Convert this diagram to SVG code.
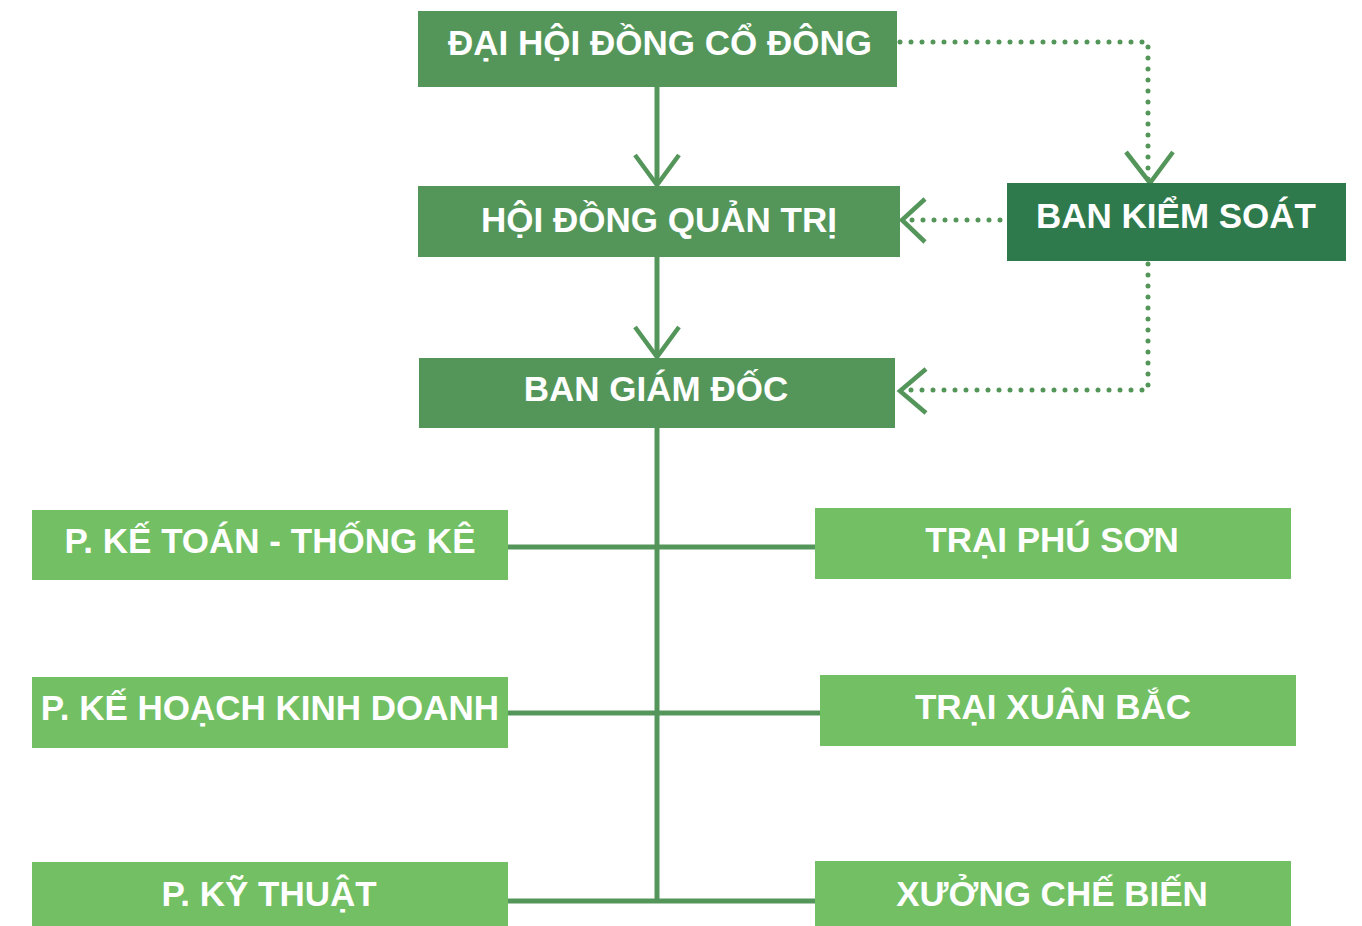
<svg xmlns="http://www.w3.org/2000/svg" width="1362" height="926" viewBox="0 0 1362 926">
<style>
.t{font-family:"Liberation Sans",Arial,sans-serif;font-weight:bold;font-size:35px;fill:#ffffff;text-anchor:middle}
.mid{fill:#54965A}
.dark{fill:#2E7A4C}
.light{fill:#72C063}
.ln{stroke:#54965A;stroke-width:5;fill:none}
.ar{stroke:#54965A;stroke-width:4.5;fill:none}
.dot{stroke:#54965A;stroke-width:5;fill:none;stroke-linecap:round;stroke-dasharray:0 11}
</style>
<rect width="1362" height="926" fill="#ffffff"/>
<g id="connectors">
<line class="ln" x1="657" y1="87" x2="657" y2="184"/>
<polyline class="ar" points="635,155 657,185 679,155"/>
<line class="ln" x1="657" y1="257" x2="657" y2="356"/>
<polyline class="ar" points="635,327 657,357 679,327"/>
<line class="ln" x1="657" y1="428" x2="657" y2="903"/>
<line class="ln" x1="508" y1="547" x2="815" y2="547"/>
<line class="ln" x1="508" y1="713" x2="820" y2="713"/>
<line class="ln" x1="508" y1="901" x2="815" y2="901"/>
<polyline class="dot" points="900,42 1148,42 1148,180"/>
<polyline class="ar" points="1126,152 1150,183 1173,152"/>
<line class="dot" x1="1000" y1="220" x2="906" y2="220"/>
<polyline class="ar" points="925,199 902,220 925,242"/>
<polyline class="dot" points="1148,264 1148,390 906,390"/>
<polyline class="ar" points="926,369 900,391 926,413"/>
</g>
<g id="dai-hoi-dong-co-dong">
<rect class="mid" x="418" y="11" width="479" height="76"/>
<text class="t" x="660" y="55">ĐẠI HỘI ĐỒNG CỔ ĐÔNG</text>
</g>
<g id="hoi-dong-quan-tri">
<rect class="mid" x="418" y="186" width="482" height="71"/>
<text class="t" x="659" y="232">HỘI ĐỒNG QUẢN TRỊ</text>
</g>
<g id="ban-kiem-soat">
<rect class="dark" x="1007" y="183" width="339" height="78"/>
<text class="t" x="1176" y="228">BAN KIỂM SOÁT</text>
</g>
<g id="ban-giam-doc">
<rect class="mid" x="419" y="358" width="476" height="70"/>
<text class="t" x="656" y="401">BAN GIÁM ĐỐC</text>
</g>
<g id="p-ke-toan">
<rect class="light" x="32" y="510" width="476" height="70"/>
<text class="t" x="270" y="553">P. KẾ TOÁN - THỐNG KÊ</text>
</g>
<g id="p-ke-hoach">
<rect class="light" x="32" y="677" width="476" height="71"/>
<text class="t" x="270" y="720">P. KẾ HOẠCH KINH DOANH</text>
</g>
<g id="p-ky-thuat">
<rect class="light" x="32" y="862" width="476" height="64"/>
<text class="t" x="269" y="906">P. KỸ THUẬT</text>
</g>
<g id="trai-phu-son">
<rect class="light" x="815" y="508" width="476" height="71"/>
<text class="t" x="1052" y="552">TRẠI PHÚ SƠN</text>
</g>
<g id="trai-xuan-bac">
<rect class="light" x="820" y="675" width="476" height="71"/>
<text class="t" x="1053" y="719">TRẠI XUÂN BẮC</text>
</g>
<g id="xuong-che-bien">
<rect class="light" x="815" y="861" width="476" height="65"/>
<text class="t" x="1052" y="906">XƯỞNG CHẾ BIẾN</text>
</g>
</svg>
